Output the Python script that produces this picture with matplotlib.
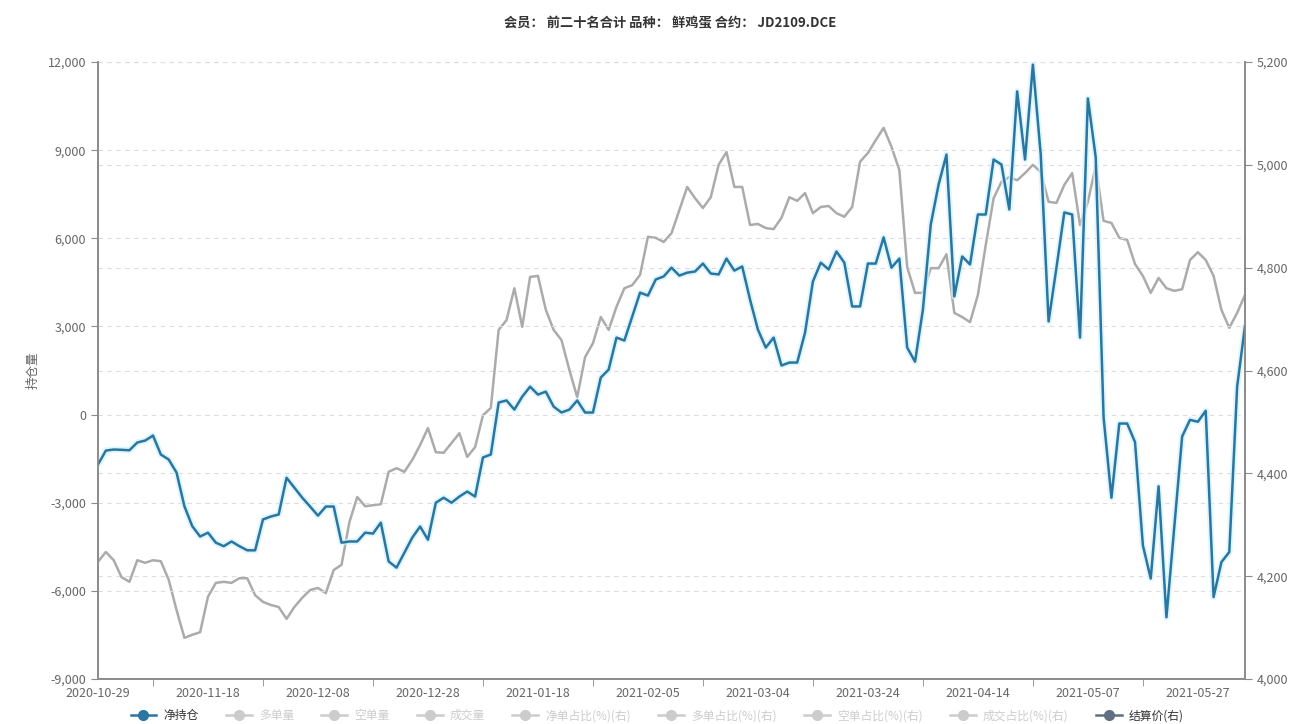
import numpy as np
import pandas as pd
import matplotlib
matplotlib.use('Agg')
import matplotlib.pyplot as plt
from matplotlib.lines import Line2D
from matplotlib.ticker import FuncFormatter, MultipleLocator

plt.rcParams['font.family'] = ['Noto Sans CJK SC', 'DejaVu Sans']

# trading days of the contract window (exchange holidays removed)
holidays = ['2021-01-01', '2021-02-11', '2021-02-12', '2021-02-15', '2021-02-16',
            '2021-02-17', '2021-04-05', '2021-05-03', '2021-05-04', '2021-05-05']
days = pd.bdate_range('2020-10-29', '2021-06-04')
days = days[~days.isin(pd.to_datetime(holidays))]
dates = [d.strftime('%Y-%m-%d') for d in days]

# 净持仓 (left axis)
net_pos = [
    -1700, -1225, -1190, -1200, -1215, -950, -885, -715, -1360, -1530,
    -1975, -3120, -3800, -4150, -4020, -4360, -4480, -4320, -4480, -4620,
    -4620, -3570, -3470, -3400, -2150, -2490, -2830, -3130, -3440, -3130,
    -3130, -4360, -4320, -4320, -4020, -4050, -3680, -5000, -5210, -4700,
    -4190, -3810, -4260, -3000, -2830, -3000, -2790, -2620, -2790, -1460,
    -1360, 410, 480, 170, 610, 950, 680, 780, 270, 70,
    170, 480, 70, 70, 1260, 1530, 2620, 2520, 3340, 4150,
    4050, 4600, 4700, 5000, 4730, 4830, 4870, 5140, 4800, 4770,
    5310, 4900, 5040, 3910, 2890, 2280, 2620, 1670, 1770, 1770,
    2790, 4530, 5170, 4940, 5550, 5170, 3680, 3680, 5140, 5140,
    6030, 5000, 5310, 2280, 1800, 3570, 6470, 7830, 8850, 4020,
    5380, 5110, 6810, 6810, 8680, 8510, 6980, 11000, 8680, 11910,
    8850, 3170, 5000, 6880, 6810, 2620, 10760, 8750, -100, -2830,
    -305, -305, -935, -4450, -5580, -2440, -6900, -3820, -745, -180,
    -245, 130, -6210, -5020, -4680, 950, 3020,
]

# 结算价(右) (right axis)
settle = [
    4228, 4247, 4231, 4198, 4189, 4231, 4226, 4231, 4229, 4193,
    4134, 4080, 4086, 4091, 4160, 4187, 4189, 4187, 4196, 4196,
    4163, 4150, 4144, 4140, 4117, 4140, 4158, 4173, 4177, 4167,
    4212, 4222, 4305, 4354, 4336, 4338, 4340, 4403, 4410, 4403,
    4426, 4455, 4488, 4441, 4440, 4459, 4478, 4432, 4451, 4513,
    4527, 4679, 4698, 4760, 4685, 4782, 4784, 4718, 4679, 4659,
    4601, 4548, 4626, 4653, 4704, 4679, 4724, 4760, 4766, 4786,
    4860, 4858, 4850, 4867, 4912, 4957, 4935, 4916, 4937, 5000,
    5025, 4957, 4957, 4883, 4885, 4877, 4875, 4897, 4937, 4930,
    4945, 4906, 4918, 4920, 4906, 4899, 4918, 5006, 5023, 5048,
    5072, 5035, 4990, 4801, 4751, 4751, 4799, 4799, 4826, 4712,
    4704, 4694, 4747, 4844, 4935, 4967, 4976, 4970, 4984, 5000,
    4986, 4928, 4926, 4961, 4984, 4883, 4928, 4998, 4891, 4887,
    4858, 4854, 4807, 4784, 4751, 4780, 4760, 4755, 4758, 4815,
    4830, 4815, 4784, 4718, 4683, 4712, 4747,
]

legend_names = ['净持仓', '多单量', '空单量', '成交量', '净单占比(%)(右)',
                '多单占比(%)(右)', '空单占比(%)(右)', '成交占比(%)(右)', '结算价(右)']
legend_active = [True, False, False, False, False, False, False, False, True]

blue = '#2a76a0'
grey_line = '#ababab'
axis_col = '#8a8a8a'
text_col = '#666666'

fig = plt.figure(figsize=(13.09, 7.24), dpi=100)
ax = fig.add_axes([98 / 1309, 45 / 724, (1245 - 98) / 1309, (679 - 62) / 724])
ax2 = ax.twinx()

x = np.arange(len(dates))

# left axis
ax.set_ylim(-9000, 12000)
ax.yaxis.set_major_locator(MultipleLocator(3000))
ax.yaxis.set_major_formatter(FuncFormatter(lambda v, p: f'{int(v):,}'))
ax.set_xlim(0, len(dates) - 1)
ax.set_xticks(x[::14])
ax.set_xticklabels(dates[::14])
ax.set_xticks(x[7::14], minor=True)
ax.tick_params(axis='x', which='major', length=0, pad=6, labelsize=9, colors=text_col)
ax.tick_params(axis='x', which='minor', length=5, color=axis_col)
ax.tick_params(axis='y', length=5, color=axis_col, labelsize=9, labelcolor=text_col)
ax.grid(axis='y', color='#dcdcdc', linestyle=(0, (4, 4)), linewidth=0.8)
ax.set_ylabel('持仓量', fontsize=9, color=text_col, labelpad=6)

# right axis
ax2.set_ylim(4000, 5200)
ax2.yaxis.set_major_locator(MultipleLocator(200))
ax2.yaxis.set_major_formatter(FuncFormatter(lambda v, p: f'{int(v):,}'))
ax2.tick_params(axis='y', length=5, color=axis_col, labelsize=9, labelcolor=text_col)
ax2.grid(axis='y', color='#dcdcdc', linestyle=(0, (4, 4)), linewidth=0.8)

for a in (ax, ax2):
    a.spines['top'].set_visible(False)
    for s in ('left', 'right', 'bottom'):
        a.spines[s].set_color(axis_col)
        a.spines[s].set_linewidth(1.2)

ax2.plot(x, settle, color=grey_line, linewidth=1.8, zorder=3)
ax.set_zorder(ax2.get_zorder() + 1)
ax.patch.set_visible(False)
ax.plot(x, net_pos, color='#d2f3ff', linewidth=4.5, alpha=0.7, solid_capstyle='round')
ax.plot(x, net_pos, color=blue, linewidth=1.8)

fig.suptitle('会员： 前二十名合计 品种： 鲜鸡蛋 合约： JD2109.DCE', x=0.512, y=0.978,
             fontsize=9.5, fontweight='bold', color='#333333')

# legend
colors = [blue] + ['#cccccc'] * 7 + ['#5f7080']
handles = [Line2D([0], [0], color=c, marker='o', markersize=7, linewidth=1.8) for c in colors]
leg = fig.legend(handles, legend_names, loc='lower center', ncol=9, frameon=False,
                 bbox_to_anchor=(0.502, -0.012), fontsize=8.5, handlelength=2.2,
                 columnspacing=2.3, handletextpad=0.6)
for t, on in zip(leg.get_texts(), legend_active):
    t.set_color('#333333' if on else '#cccccc')

fig.savefig('out.png', dpi=100)
